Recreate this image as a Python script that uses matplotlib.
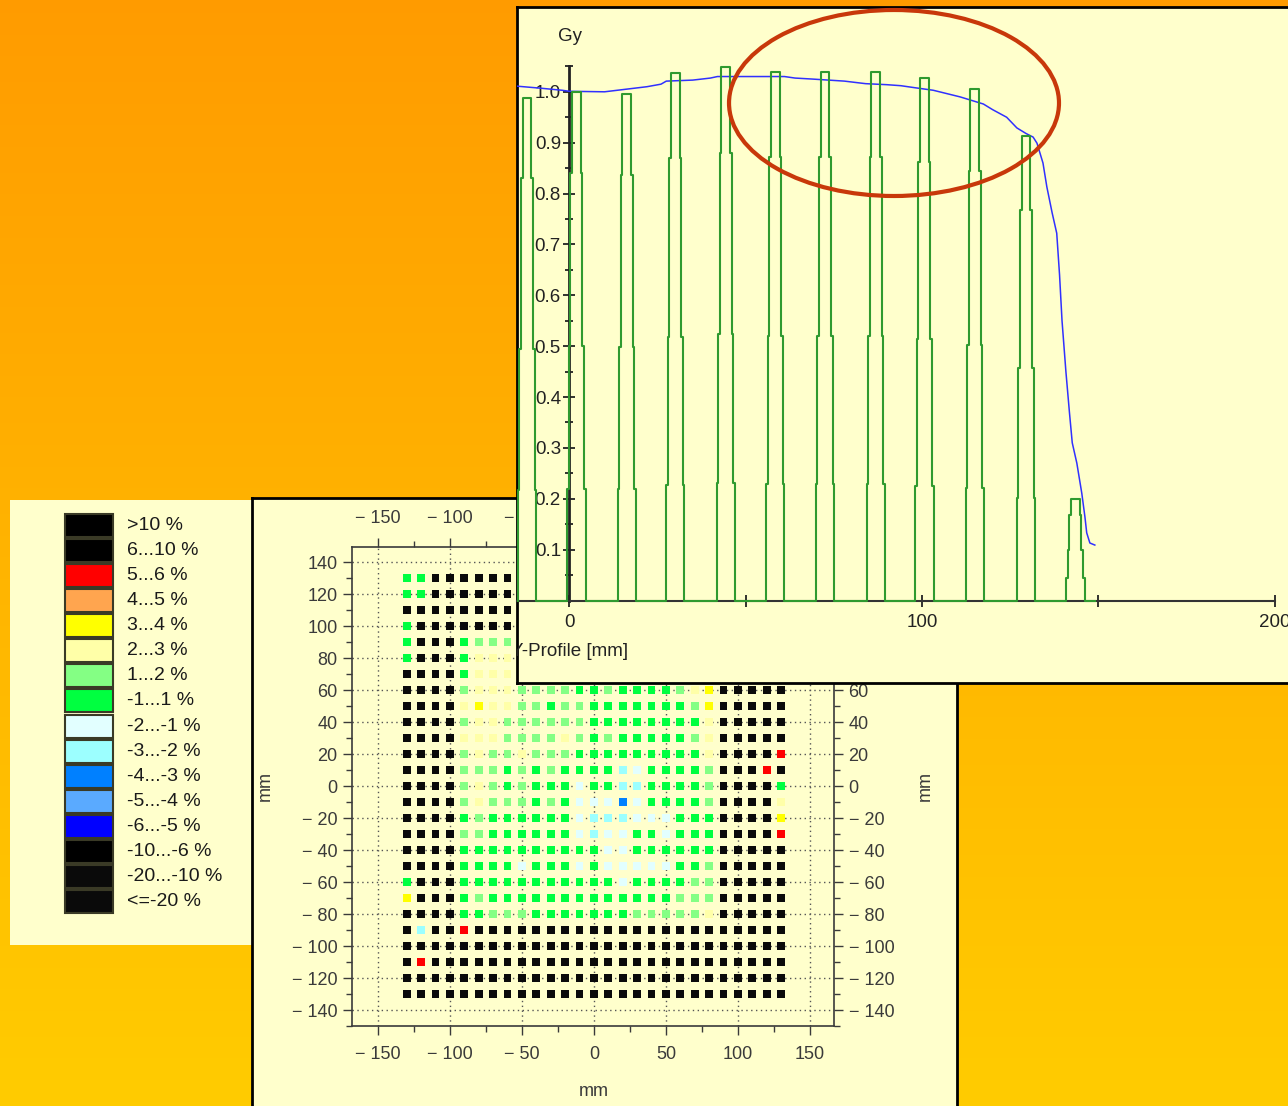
import numpy as np
import matplotlib
matplotlib.use("Agg")
import matplotlib.pyplot as plt
from matplotlib.patches import Rectangle, Ellipse
from matplotlib.ticker import FixedLocator, MultipleLocator, FuncFormatter

plt.rcParams['font.family'] = ['Liberation Sans', 'DejaVu Sans']

W, H = 1288, 1106

# legend classes (dose difference)
legend_labels = [">10 %", "6...10 %", "5...6 %", "4...5 %", "3...4 %", "2...3 %",
                 "1...2 %", "-1...1 %", "-2...-1 %", "-3...-2 %", "-4...-3 %",
                 "-5...-4 %", "-6...-5 %", "-10...-6 %", "-20...-10 %", "<=-20 %"]
legend_colors = ["#000000", "#000000", "#ff0000", "#ffa54f", "#ffff00", "#ffffa8",
                 "#84ff84", "#00ff40", "#e2ffff", "#9cffff", "#0080ff",
                 "#5aaaff", "#0000ff", "#000000", "#0a0a0a", "#0a0a0a"]

# detector map: one char per detector, code -> legend class
code_class = {"K": 15, "R": 2, "O": 3, "Y": 4, "y": 5, "g": 6, "G": 7,
              "w": 8, "c": 9, "B": 10, "b": 11, "N": 12}
det_x = np.arange(-130, 131, 10)
det_y = np.arange(130, -131, -10)
det_rows = [
    "GGKKKKKKKKKKKKKKKKKKKKKKKKK",  # 130
    "GGKKKKKKKKKKKKKKKKKKKKKKKKK",  # 120
    "KKKKKKKKKKKKKKKKKKKKKKKKKKK",  # 110
    "GKKKKKKKKKKKKKKKKKKKKKKKKKK",  # 100
    "GKKKGggggggggGGgGGGGgyKKKKK",  # 90
    "GKKKGyyygggygGGGGGGgyYKKKKK",  # 80
    "KKKKGyyyggggGGgGGGGGyYKKKKK",  # 70
    "KKKKgyyyggggGGgGGGGgyYKKKKK",  # 60
    "KKKKyYyyggGggGGGGGGGgYKKKKK",  # 50
    "KKKKgyyggggggGGGGGGGGyKKKKK",  # 40
    "KKKKyyyggggygGgGGGGGgyKKKKK",  # 30
    "KKKKgyggygggGGGGGGGGGyKKKKR",  # 20
    "KKKKgggGgGgGGGGcwGGGGgKKKRK",  # 10
    "KKKKgygGgGGGwGGccGGGGgKKKKG",  # 0
    "KKKKgygggGgGwwwBwGGGGgKKKKy",  # -10
    "KKKKGgGGGGGGwcccwwwGGGKKKKY",  # -20
    "KKKKggGGGGGGwcwwGGwGGGKKKKR",  # -30
    "KKKKGGGGGGGGGGwwGGGGGGKKKKK",  # -40
    "KKKKGGGGwGGGwGwwwwwGGgKKKKK",  # -50
    "GKKKGGGGGGGGGGGwGGGGggKKKKK",  # -60
    "YKKKGgGGGGGGGGGGGGGgggKKKKK",  # -70
    "KKKKGGgggGGGGGGGgggggyKKKKK",  # -80
    "KcKKRKKKKKKKKKKKKKKKKKKKKKK",  # -90
    "KKKKKKKKKKKKKKKKKKKKKKKKKKK",  # -100
    "KRKKKKKKKKKKKKKKKKKKKKKKKKK",  # -110
    "KKKKKKKKKKKKKKKKKKKKKKKKKKK",  # -120
    "KKKKKKKKKKKKKKKKKKKKKKKKKKK",  # -130
]

# Y-profile: detector peaks (green) and dose profile (blue)
peak_x = [-12.0, 2.0, 16.3, 30.0, 44.4, 58.4, 72.5, 86.9, 100.7, 115.0, 129.5, 143.5]
peak_h = [0.988, 1.0, 0.996, 1.036, 1.048, 1.038, 1.038, 1.038, 1.027, 1.006, 0.914, 0.199]
step_dx = [-2.6, -2.6, -2.15, -2.15, -1.7, -1.7, -1.25, -1.25,
           1.25, 1.25, 1.7, 1.7, 2.15, 2.15, 2.6, 2.6]
step_frac = [0, 0.22, 0.22, 0.5, 0.5, 0.84, 0.84, 1, 1, 0.84, 0.84, 0.5, 0.5, 0.22, 0.22, 0]
green_end = 149.0

blue_x = [-14.7, -8, -2, 0, 10, 16, 22, 26, 27.5, 35, 40, 42, 50, 61, 64, 69, 78, 84,
          90, 94, 98, 103.2, 110.8, 117.4, 120, 124, 126.9, 129.5, 131.5, 132.6, 134.3,
          135.4, 136.9, 138.2, 139.0, 139.7, 140.8, 141.8, 142.6, 143.9, 145.3, 146.2,
          146.7, 147.6, 149.0]
blue_y = [1.011, 1.007, 1.003, 1.001, 1.0, 1.005, 1.01, 1.015, 1.021, 1.023, 1.027, 1.030,
          1.030, 1.030, 1.027, 1.025, 1.021, 1.016, 1.014, 1.012, 1.008, 1.003, 0.99,
          0.976, 0.965, 0.95, 0.929, 0.918, 0.911, 0.899, 0.86, 0.813, 0.762, 0.722,
          0.64, 0.55, 0.45, 0.37, 0.31, 0.27, 0.211, 0.164, 0.133, 0.113, 0.109]


def rect(x0, y0, x1, y1):
    # pixel box (top-left origin) -> figure fraction
    return [x0 / W, 1 - y1 / H, (x1 - x0) / W, (y1 - y0) / H]


def blank(ax, fc="#ffffcc", border=None):
    ax.set_facecolor(fc)
    ax.set_xticks([])
    ax.set_yticks([])
    for s in ax.spines.values():
        if border is None:
            s.set_visible(False)
        else:
            s.set_color(border)
            s.set_linewidth(2)


fig = plt.figure(figsize=(W / 100, H / 100), dpi=100)

# orange background
bg = fig.add_axes([0, 0, 1, 1], zorder=0)
t = np.linspace(0, 1, 256)[:, None]
grad = np.array([1.0, 0.61, 0.0]) * (1 - t) + np.array([1.0, 0.80, 0.0]) * t
bg.imshow(grad.reshape(256, 1, 3), aspect="auto", extent=[0, 1, 0, 1])
bg.set_axis_off()

# legend panel
lg = fig.add_axes(rect(10, 500, 252, 945), zorder=1)
blank(lg)
lg.set_xlim(10, 252)
lg.set_ylim(945, 500)
for i, (lab, col) in enumerate(zip(legend_labels, legend_colors)):
    cy = 525 + i * 25.13
    lg.add_patch(Rectangle((65, cy - 11.5), 48, 23, facecolor=col,
                           edgecolor="#3a3a26", linewidth=1.5))
    lg.text(127, cy, lab, va="center", ha="left", fontsize=14, color="#1a1a1a")

# detector map panel
gp = fig.add_axes(rect(252, 498, 957, 1112), zorder=2)
blank(gp, border="black")

ga = fig.add_axes(rect(352, 547, 834, 1026), zorder=3)
ga.set_facecolor("none")
xs, ys, cs = [], [], []
for yv, row in zip(det_y, det_rows):
    for xv, ch in zip(det_x, row):
        xs.append(xv)
        ys.append(yv)
        cs.append(legend_colors[code_class[ch]])
ga.scatter(xs, ys, c=cs, marker="s", s=31, linewidths=0, zorder=3)
ga.set_xlim(-168, 166.7)
ga.set_ylim(-150, 149.4)
ga.xaxis.set_major_locator(MultipleLocator(50))
ga.xaxis.set_minor_locator(MultipleLocator(25))
ga.yaxis.set_major_locator(MultipleLocator(20))
ga.yaxis.set_minor_locator(MultipleLocator(10))
fmt = FuncFormatter(lambda v, _: f"\u2212 {abs(int(round(v)))}" if v < 0 else f"{int(round(v))}")
ga.xaxis.set_major_formatter(fmt)
ga.yaxis.set_major_formatter(fmt)
ga.tick_params(which="both", direction="out", colors="#3a3a3a", top=True, right=True,
               labeltop=True, labelright=True, labelsize=13)
ga.tick_params(which="major", length=6.5, width=1)
ga.tick_params(which="minor", length=4.5, width=1)
ga.tick_params(axis="x", pad=8)
ga.tick_params(axis="y", pad=4)
for s in ga.spines.values():
    s.set_color("#3a3a3a")
    s.set_linewidth(1.2)
ga.grid(True, which="major", color="#555555", linestyle=(0, (1, 2.5)), linewidth=1)
ga.set_axisbelow(True)
fig.text(594 / W, 1 - 1091 / H, "mm", ha="center", va="center", fontsize=13, color="#3a3a3a")
fig.text(265 / W, 1 - 786 / H, "mm", rotation=90, ha="center", va="center", fontsize=13,
         color="#3a3a3a")
fig.text(925 / W, 1 - 786 / H, "mm", rotation=90, ha="center", va="center", fontsize=13,
         color="#3a3a3a")

# profile panel
pp = fig.add_axes(rect(517, 7, 1296, 683), zorder=4)
blank(pp, border="black")

pa = fig.add_axes(rect(517, 7, 1296, 683), zorder=5)
pa.set_facecolor("none")
pa.set_xlim((517 - 569.3) / 3.527, (1296 - 569.3) / 3.527)
pa.set_ylim((600.5 - 683) / 508.7, (600.5 - 7) / 508.7)
pa.spines["top"].set_visible(False)
pa.spines["right"].set_visible(False)
pa.spines["left"].set_position(("data", 0))
pa.spines["bottom"].set_position(("data", 0))
pa.spines["left"].set_bounds(0, 1.05)
pa.spines["bottom"].set_bounds((517 - 569.3) / 3.527, 200)
pa.spines["left"].set_color("#222222")
pa.spines["left"].set_linewidth(2)
pa.spines["bottom"].set_color("#333333")
pa.spines["bottom"].set_linewidth(1.5)

pa.xaxis.set_major_locator(FixedLocator([0, 50, 100, 150, 200]))
pa.xaxis.set_major_formatter(FuncFormatter(lambda v, _: f"{int(v)}" if v % 100 == 0 else ""))
pa.yaxis.set_major_locator(FixedLocator(np.round(np.arange(1, 11) * 0.1, 2)))
pa.yaxis.set_minor_locator(FixedLocator(np.round(np.arange(0, 11) * 0.1 + 0.05, 2)))
pa.yaxis.set_major_formatter(FuncFormatter(lambda v, _: f"{v:.1f}"))
pa.tick_params(which="both", direction="inout", colors="#222222", labelsize=13.5)
pa.tick_params(which="major", length=8, width=1.3)
pa.tick_params(which="minor", length=6, width=1.3)
pa.tick_params(axis="x", pad=6)
pa.tick_params(axis="y", pad=2)

gx, gy = [(517 - 569.3) / 3.527 - 2], [0]
for c, h in zip(peak_x, peak_h):
    for dx, fr in zip(step_dx, step_frac):
        gx.append(c + dx)
        gy.append(h * fr)
gx.append(green_end)
gy.append(0)
pa.plot(blue_x, blue_y, color="#3030ff", linewidth=1.1, zorder=3)
pa.plot(gx, gy, color="#2f9a2f", linewidth=1.5, zorder=4)

pa.text(0.2, 1.108, "Gy", ha="center", va="center", fontsize=13.5, color="#222222")
pa.text((511 - 569.3) / 3.527, (600.5 - 652) / 508.7, "Y-Profile [mm]", ha="left",
        va="center", fontsize=13.5, color="#222222", clip_on=True)

pa.add_patch(Ellipse(((894 - 569.3) / 3.527, (600.5 - 103) / 508.7), 330 / 3.527,
                     186 / 508.7, fill=False, edgecolor="#c8380a", linewidth=3,
                     zorder=6, clip_on=False))

fig.savefig("out.png", dpi=100)
